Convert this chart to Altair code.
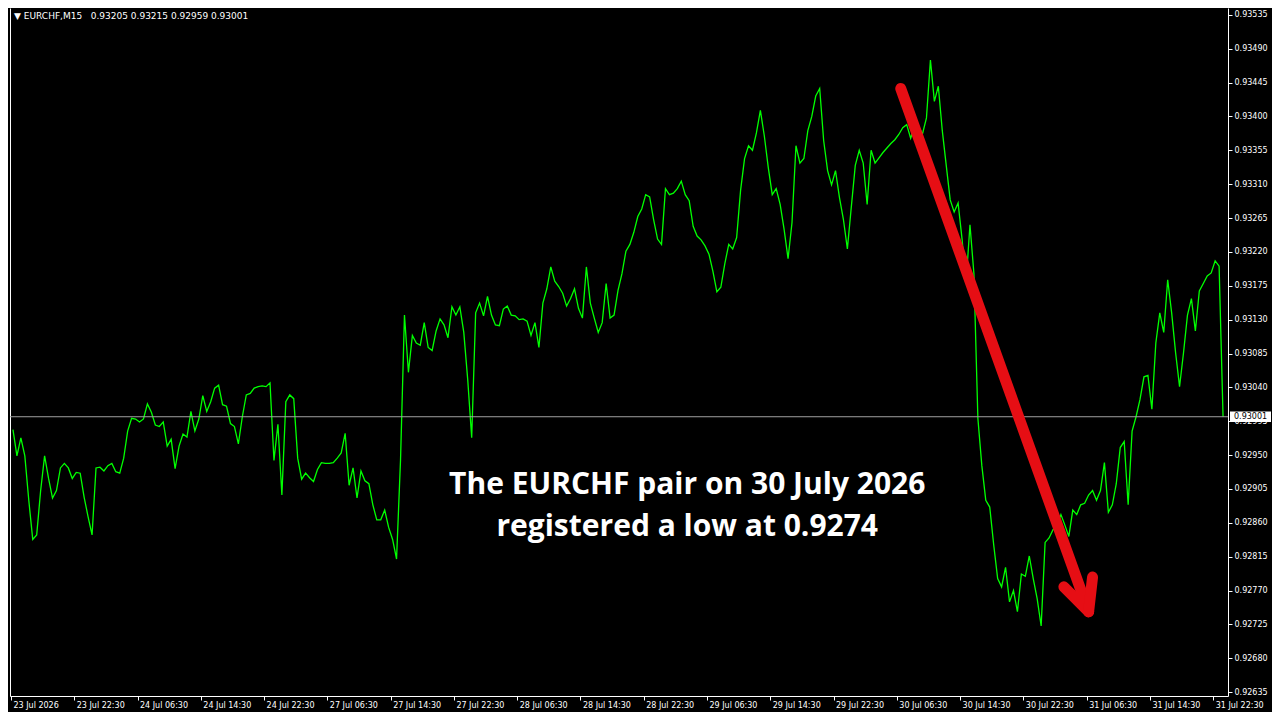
import altair as alt
import pandas as pd

# ---- EURCHF M15 closes, one value every 2 bars (bar index 1, 3, 5, ...) ----
close_jul23_27 = [0.92984, 0.92949, 0.92973, 0.92949, 0.92890, 0.92838, 0.92844, 0.92903, 0.92949, 0.92919,
                  0.92893, 0.92903, 0.92933, 0.92939, 0.92933, 0.92919, 0.92927, 0.92926, 0.92894, 0.92868,
                  0.92844, 0.92933, 0.92934, 0.92929, 0.92936, 0.92939, 0.92928, 0.92926, 0.92946, 0.92982,
                  0.92999, 0.92998, 0.92994, 0.92998, 0.93018, 0.93007, 0.92990, 0.92988, 0.92994, 0.92962,
                  0.92971, 0.92932, 0.92962, 0.92978, 0.92974, 0.93008, 0.92982, 0.92998, 0.93029, 0.93008,
                  0.93021, 0.93039, 0.93043, 0.93017, 0.93015, 0.92992, 0.92988, 0.92965, 0.93001, 0.93030,
                  0.93032, 0.93039, 0.93041, 0.93042, 0.93041, 0.93046, 0.92943, 0.92991, 0.92897, 0.93021,
                  0.93030, 0.93025, 0.92946, 0.92918, 0.92926, 0.92920, 0.92915, 0.92931, 0.92940, 0.92939,
                  0.92939, 0.92940, 0.92946, 0.92953, 0.92979, 0.92910, 0.92933, 0.92893, 0.92929, 0.92916,
                  0.92912, 0.92884, 0.92864, 0.92864, 0.92877, 0.92854, 0.92838, 0.92812, 0.92943]
close_jul27_28 = [0.93136, 0.93060, 0.93109, 0.93099, 0.93096, 0.93126, 0.93093, 0.93089, 0.93115, 0.93131,
                  0.93123, 0.93106, 0.93147, 0.93136, 0.93147, 0.93113, 0.93050, 0.92973, 0.93139, 0.93152,
                  0.93135, 0.93161, 0.93136, 0.93123, 0.93122, 0.93144, 0.93148, 0.93136, 0.93135, 0.93130,
                  0.93131, 0.93128, 0.93109, 0.93126, 0.93093, 0.93152, 0.93171, 0.93200, 0.93181, 0.93174,
                  0.93165, 0.93148, 0.93158, 0.93171, 0.93145, 0.93132, 0.93200, 0.93152, 0.93132, 0.93113,
                  0.93126, 0.93178, 0.93132, 0.93136, 0.93169, 0.93191, 0.93221]
close_jul28_30 = [0.93230, 0.93246, 0.93267, 0.93277, 0.93296, 0.93293, 0.93263, 0.93237, 0.93230, 0.93304,
                  0.93296, 0.93298, 0.93304, 0.93314, 0.93296, 0.93288, 0.93254, 0.93241, 0.93236, 0.93228,
                  0.93217, 0.93194, 0.93167, 0.93173, 0.93204, 0.93230, 0.93224, 0.93239, 0.93302, 0.93344,
                  0.93361, 0.93355, 0.93378, 0.93408, 0.93374, 0.93332, 0.93296, 0.93304, 0.93283, 0.93250,
                  0.93211, 0.93259, 0.93361, 0.93338, 0.93344, 0.93381, 0.93400, 0.93427, 0.93437, 0.93368,
                  0.93328, 0.93309, 0.93328, 0.93292, 0.93263, 0.93224, 0.93280, 0.93335, 0.93355, 0.93338,
                  0.93283, 0.93355, 0.93338, 0.93345, 0.93352, 0.93358, 0.93364, 0.93369, 0.93376, 0.93385,
                  0.93389]
close_jul30_am = [0.93371, 0.93387, 0.93386, 0.93377, 0.93398, 0.93475, 0.93420, 0.93440, 0.93381, 0.93335,
                  0.93289, 0.93273, 0.93285, 0.93237, 0.93178, 0.93256, 0.93191]
close_jul30_31 = [0.92999, 0.92936, 0.92890, 0.92881, 0.92831, 0.92786, 0.92775, 0.92801, 0.92755, 0.92770,
                  0.92742, 0.92792, 0.92789, 0.92816, 0.92786, 0.92759, 0.92723, 0.92834, 0.92840, 0.92851,
                  0.92857, 0.92871, 0.92857, 0.92842, 0.92877, 0.92871, 0.92884, 0.92886, 0.92897, 0.92903,
                  0.92890, 0.92903, 0.92940, 0.92874, 0.92884, 0.92912, 0.92960, 0.92968, 0.92884, 0.92982,
                  0.93001, 0.93024, 0.93054, 0.93056, 0.93011, 0.93099, 0.93139, 0.93113, 0.93183, 0.93139,
                  0.93086, 0.93041, 0.93086, 0.93136, 0.93158, 0.93115, 0.93168, 0.93178, 0.93188, 0.93192,
                  0.93208, 0.93201, 0.93001]

# time axis: a label every 32 bars (8 hours)
time_labels = ["23 Jul 2026", "23 Jul 22:30", "24 Jul 06:30", "24 Jul 14:30", "24 Jul 22:30",
               "27 Jul 06:30", "27 Jul 14:30", "27 Jul 22:30", "28 Jul 06:30", "28 Jul 14:30",
               "28 Jul 22:30", "29 Jul 06:30", "29 Jul 14:30", "29 Jul 22:30", "30 Jul 06:30",
               "30 Jul 14:30", "30 Jul 22:30", "31 Jul 06:30", "31 Jul 14:30", "31 Jul 22:30"]
bars_per_label = 32
price_ticks = [round(0.92635 + 0.00045 * k, 5) for k in range(21)]

header = "\u25bc EURCHF,M15\u00a0\u00a0 0.93205 0.93215 0.92959 0.93001"
note_lines = ["The EURCHF pair on 30 July 2026", "registered a low at 0.9274"]
note_bar = [342, 342]
note_price = [0.92898, 0.92843]

# red arrow (shaft + two wings), in bar / price coordinates
arrow_seg = ["shaft", "shaft", "left", "left", "right", "right"]
arrow_bar = [450, 545, 532.5, 545, 547, 545]
arrow_price = [0.93437, 0.92742, 0.92775, 0.92742, 0.92788, 0.92742]

# ---- build tables ----
closes = close_jul23_27 + close_jul27_28 + close_jul28_30 + close_jul30_am + close_jul30_31
series = pd.DataFrame({"bar": [1 + 2 * i for i in range(len(closes))], "price": closes})
last_price = closes[-1]

W, H = 1218, 688
x_scale = alt.Scale(domain=[-0.5, 615.5], nice=False, zero=False)
y_scale = alt.Scale(domain=[0.92630, 0.93544], nice=False, zero=False)

label_js = "[" + ",".join("'%s'" % s for s in time_labels) + "][round(datum.value/%d)]" % bars_per_label
x_axis = alt.Axis(values=[bars_per_label * k for k in range(len(time_labels))], labelExpr=label_js,
                  title=None, grid=False, labelAlign="left", labelBaseline="top", labelPadding=1,
                  labelOffset=2, tickSize=4, labelFlush=False, labelOverlap=False,
                  labelColor="#ffffff", labelFont="DejaVu Sans", labelFontSize=8,
                  domainColor="#ffffff", tickColor="#ffffff")
y_axis = alt.Axis(orient="right", values=price_ticks, format=".5f", title=None, grid=False,
                  labelFlush=False, labelOverlap=False, labelPadding=2, tickSize=4,
                  labelColor="#ffffff", labelFont="DejaVu Sans", labelFontSize=8,
                  labelBaseline="middle", domainColor="#ffffff", tickColor="#ffffff")

line = alt.Chart(series).mark_line(color="#00ff00", strokeWidth=1.3).encode(
    x=alt.X("bar:Q", scale=x_scale, axis=x_axis),
    y=alt.Y("price:Q", scale=y_scale, axis=y_axis),
)

rule = alt.Chart(pd.DataFrame({"price": [last_price]})).mark_rule(color="#a0a0a0", strokeWidth=1).encode(
    y=alt.Y("price:Q", scale=y_scale, axis=None)
)

box_df = pd.DataFrame({"top": [last_price + 0.00007], "bot": [last_price - 0.00007],
                       "price": [last_price], "label": ["%.5f" % last_price]})
box = alt.Chart(box_df).mark_rect(color="#ffffff").encode(
    x=alt.value(W + 2), x2=alt.value(W + 43),
    y=alt.Y("top:Q", scale=y_scale, axis=None), y2="bot:Q",
)
box_text = alt.Chart(box_df).mark_text(align="left", baseline="middle", color="#000000",
                                       font="DejaVu Sans", fontSize=8).encode(
    x=alt.value(W + 6), y=alt.Y("price:Q", scale=y_scale, axis=None), text="label:N"
)

arrow_df = pd.DataFrame({"seg": arrow_seg, "ord": list(range(len(arrow_seg))),
                         "bar": arrow_bar, "price": arrow_price})
arrow = alt.Chart(arrow_df).mark_line(color="#e60e14", strokeWidth=11, strokeCap="round",
                                      strokeJoin="round").encode(
    x=alt.X("bar:Q", scale=x_scale),
    y=alt.Y("price:Q", scale=y_scale,
            axis=alt.Axis(orient="left", labels=False, ticks=False, title=None, grid=False,
                          domainColor="#ffffff")),
    detail="seg:N", order="ord:Q",
)

note_df = pd.DataFrame({"bar": note_bar, "price": note_price, "txt": note_lines})
note = alt.Chart(note_df).mark_text(font="Open Sans", fontWeight="bold", fontSize=30,
                                    color="#ffffff", align="center", baseline="alphabetic").encode(
    x=alt.X("bar:Q", scale=x_scale),
    y=alt.Y("price:Q", scale=y_scale, axis=None),
    text="txt:N",
)

head = alt.Chart(pd.DataFrame({"t": [header]})).mark_text(
    align="left", baseline="middle", color="#ffffff", font="DejaVu Sans", fontSize=9
).encode(x=alt.value(4), y=alt.value(8), text="t:N")

chart = alt.layer(line, rule, arrow, box, box_text, note, head).resolve_axis(
    y="independent"
).properties(
    width=W, height=H,
    autosize=alt.AutoSizeParams(type="none"),
    padding={"left": 2, "top": 0, "right": 44, "bottom": 16},
    background="#000000",
).configure_view(stroke=None)

chart.save("out.html", embed_options={"renderer": "svg", "actions": False})
